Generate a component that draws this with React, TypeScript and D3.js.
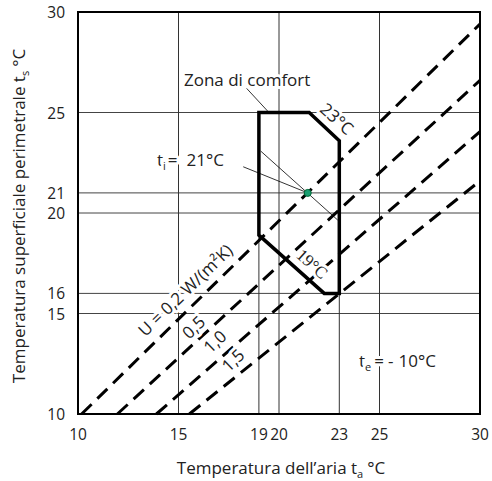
import React from "react";
import * as d3 from "d3";

// axis ticks
const xTicks = [10, 15, 19, 20, 23, 25, 30];
const yTicks = [10, 15, 16, 20, 21, 25, 30];

// grid lines (data units)
const vGrid = [
  { x: 15, from: 10, to: 30 },
  { x: 19, from: 10, to: 25 },
  { x: 20, from: 10, to: 30 },
  { x: 23, from: 10, to: 23.6 },
  { x: 25, from: 10, to: 30 },
];
const hGrid = [15, 16, 20, 21, 25];

// U lines, te = -10°C : [ta, ts] endpoints
const uLines = [
  { u: "0,2", p: [[10.18, 10], [30, 29.4]] },
  { u: "0,5", p: [[11.96, 10], [30, 26.6]] },
  { u: "1,0", p: [[13.9, 10], [30, 24.05]] },
  { u: "1,5", p: [[15.54, 10], [30, 21.6]] },
];

// comfort zone outline
const comfort = [[19, 25], [21.5, 25], [23, 23.6], [23, 16], [22.25, 16], [19, 18.9]];

// ti = 21°C operative line and leaders
const ti21 = [[19.09, 23.08], [22.92, 19.65]];
const tiPoint = [21.43, 21];
const tiLeader = [[18.22, 22.3], [21.43, 21]];
const zonaLeader = [[18.39, 26.2], [19.5, 25]];

// rotated labels: centre [ta, ts], angle
const rotLabels = [
  { t: "23°C", at: [22.89, 24.7], rot: 42, serif: false },
  { t: "19°C", at: [21.64, 17.46], rot: 42, serif: true },
  { t: "U = 0,2 W/(m²K)", at: [15.33, 16.17], rot: -44, serif: false },
  { t: "0,5", at: [15.74, 14.33], rot: -44, serif: false },
  { t: "1,0", at: [16.8, 13.62], rot: -44, serif: false },
  { t: "1,5", at: [17.7, 12.68], rot: -44, serif: false },
];

const W = 492;
const H = 481;
const font = "'Open Sans', 'Noto Sans', sans-serif";
const fs = 17;

export default function App() {
  const x = d3.scaleLinear().domain([10, 30]).range([78, 480]);
  const y = d3.scaleLinear().domain([10, 30]).range([414, 12]);
  const line = d3.line<number[]>().x((d) => x(d[0])).y((d) => y(d[1]));
  const halo = { stroke: "#fff", strokeWidth: 6, paintOrder: "stroke" as const, strokeLinejoin: "round" as const };

  return (
    <svg width={W} height={H} style={{ position: "absolute", left: 0, top: 0 }} fontFamily={font} fill="#222">
      <rect width={W} height={H} fill="#fff" />
      {hGrid.map((v) => (
        <line key={"h" + v} x1={x(10)} x2={x(30)} y1={y(v)} y2={y(v)} stroke="#444" strokeWidth={1} />
      ))}
      {vGrid.map((g) => (
        <line key={"v" + g.x} x1={x(g.x)} x2={x(g.x)} y1={y(g.from)} y2={y(g.to)} stroke="#333" strokeWidth={1} />
      ))}
      {uLines.map((l) => (
        <path key={l.u} d={line(l.p) || ""} fill="none" stroke="#000" strokeWidth={3} strokeDasharray="14 8" />
      ))}

      {rotLabels.map((l) => (
        <text
          key={l.t}
          transform={`translate(${x(l.at[0])},${y(l.at[1])}) rotate(${l.rot})`}
          textAnchor="middle"
          dominantBaseline="central"
          fontSize={fs}
          fontFamily={l.serif ? "'Liberation Serif', serif" : font}
          {...halo}
        >
          {l.t}
        </text>
      ))}
      <text x={x(15.27)} y={y(26.32)} fontSize={fs} {...halo}>Zona di comfort</text>
      <text x={x(13.93)} y={y(22.34)} fontSize={fs} {...halo}>
        t<tspan fontSize={11} dy={4}>i</tspan>
        <tspan dy={-4} dx={2}>=</tspan>
        <tspan dx={9}>21°C</tspan>
      </text>
      <text x={x(23.98)} y={y(12.34)} fontSize={fs} {...halo}>
        t<tspan fontSize={11} dy={4}>e</tspan>
        <tspan dy={-4} dx={3}>=</tspan>
        <tspan dx={4}>-</tspan>
        <tspan dx={5}>10°C</tspan>
      </text>

      <path d={line(ti21) || ""} stroke="#000" strokeWidth={0.8} fill="none" />
      <path d={line(tiLeader) || ""} stroke="#000" strokeWidth={0.8} fill="none" />
      <path d={line(zonaLeader) || ""} stroke="#000" strokeWidth={0.8} fill="none" />
      <path d={(line(comfort) || "") + "Z"} fill="none" stroke="#000" strokeWidth={3.5} strokeLinejoin="miter" />
      <circle cx={x(tiPoint[0])} cy={y(tiPoint[1])} r={3.5} fill="#1a9e72" stroke="#063" strokeWidth={1} />

      <rect x={x(10)} y={y(30)} width={x(30) - x(10)} height={y(10) - y(30)} fill="none" stroke="#000" strokeWidth={2} />

      {xTicks.map((t) => (
        <text key={"xt" + t} x={x(t)} y={440} textAnchor="middle" fontSize={15.5}>{t}</text>
      ))}
      {yTicks.map((t) => (
        <text key={"yt" + t} x={65} y={y(t)} textAnchor="end" dominantBaseline="central" fontSize={15.5}>{t}</text>
      ))}
      <text x={281} y={474} textAnchor="middle" fontSize={fs}>
        Temperatura dell’aria t<tspan fontSize={11} dy={4}>a</tspan>
        <tspan dy={-4} dx={4}>°C</tspan>
      </text>
      <text transform="translate(25,216) rotate(-90)" textAnchor="middle" fontSize={fs}>
        Temperatura superficiale perimetrale t<tspan fontSize={11} dy={4}>s</tspan>
        <tspan dy={-4} dx={4}>°C</tspan>
      </text>
    </svg>
  );
}
